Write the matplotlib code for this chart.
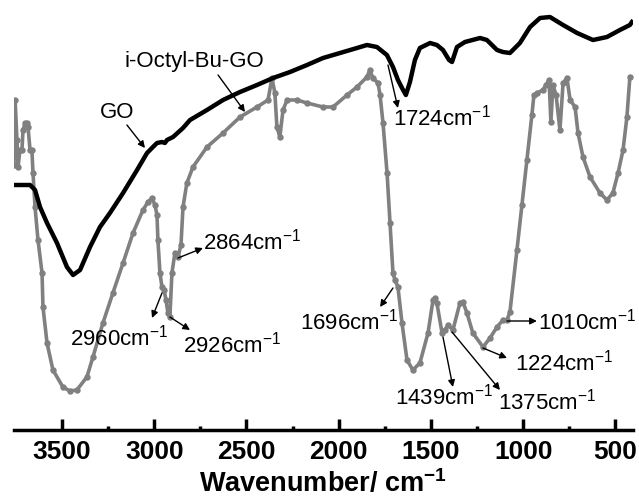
import numpy as np
import matplotlib
matplotlib.use("Agg")
import matplotlib.pyplot as plt

plt.rcParams['font.family'] = ['Liberation Sans', 'DejaVu Sans']
plt.rcParams['mathtext.fontset'] = 'custom'
plt.rcParams['mathtext.rm'] = 'Liberation Sans'
plt.rcParams['mathtext.it'] = 'Liberation Sans:italic'
plt.rcParams['mathtext.bf'] = 'Liberation Sans:bold'

# GO spectrum (wavenumber, transmittance in arbitrary units)
go_wn = [3760, 3673, 3646, 3619, 3581, 3527, 3473, 3440, 3402, 3348, 3294, 3240,
         3169, 3093, 3039, 3007, 2985, 2958, 2942, 2931, 2898, 2844, 2806, 2714,
         2627, 2535, 2443, 2356, 2264, 2172, 2085, 1993, 1901, 1847, 1793, 1739,
         1706, 1679, 1657, 1636, 1614, 1587, 1560, 1505, 1468, 1435, 1402, 1386,
         1359, 1316, 1234, 1197, 1142, 1110, 1072, 1018, 963, 909, 855, 784,
         708, 622, 546, 476, 422, 411]
go_t = [245, 245, 240, 223, 207, 187, 163, 155, 160, 183, 203, 217,
        237, 260, 277, 283, 287, 288, 287, 290, 293, 302, 310, 320,
        330, 338, 345, 352, 358, 365, 372, 377, 382, 385, 383, 375,
        363, 350, 342, 335, 348, 370, 382, 387, 385, 380, 370, 368,
        383, 388, 392, 390, 380, 378, 377, 387, 403, 412, 413, 405,
        397, 390, 393, 400, 405, 408]

# i-Octyl-Bu-GO spectrum
oct_wn = [3760, 3754, 3744, 3738, 3728, 3717, 3711, 3700, 3690, 3684, 3673, 3663,
          3657, 3646, 3630, 3608, 3603, 3581, 3549, 3495, 3457, 3419, 3365, 3332,
          3278, 3224, 3169, 3115, 3061, 3034, 3012, 2996, 2985, 2980, 2969, 2958,
          2947, 2936, 2926, 2915, 2904, 2888, 2871, 2855, 2844, 2823, 2790, 2714,
          2627, 2535, 2443, 2383, 2362, 2346, 2335, 2319, 2302, 2280, 2226, 2172,
          2085, 2031, 1955, 1901, 1847, 1831, 1815, 1787, 1776, 1760, 1738, 1722,
          1706, 1695, 1679, 1657, 1630, 1598, 1560, 1516, 1489, 1478, 1468, 1440,
          1424, 1408, 1381, 1343, 1327, 1305, 1273, 1218, 1180, 1142, 1110, 1088,
          1072, 1034, 1007, 980, 953, 942, 925, 893, 877, 860, 850, 839,
          822, 801, 784, 763, 746, 719, 703, 676, 638, 584, 546, 514,
          486, 459, 438, 422]
oct_t = [265, 330, 290, 263, 280, 280, 300, 307, 307, 303, 280, 280,
         257, 223, 190, 157, 123, 87, 60, 43, 39, 40, 53, 73,
         107, 137, 167, 197, 220, 228, 232, 225, 215, 190, 157, 143,
         140, 130, 117, 113, 157, 177, 173, 185, 223, 247, 263, 283,
         297, 313, 323, 330, 352, 337, 303, 293, 320, 330, 330, 327,
         323, 323, 335, 343, 353, 360, 352, 347, 335, 307, 257, 207,
         157, 150, 143, 107, 70, 60, 67, 97, 130, 132, 127, 97,
         100, 105, 100, 127, 128, 117, 97, 83, 92, 103, 110, 110,
         118, 180, 225, 270, 315, 335, 337, 340, 345, 350, 308, 345,
         335, 300, 347, 352, 330, 323, 297, 273, 253, 237, 230, 237,
         257, 280, 313, 353]

# peak labels: (text, text x, text y, arrow tail x, tail y, head x, head y)
peak_labels = [
    ("1724", 1706, 312, 1733, 365, 1679, 322),
    ("2864", 2736, 188, 2871, 172, 2736, 182),
    ("2960", 3457, 92, 2958, 137, 3012, 112),
    ("2926", 2844, 85, 2915, 113, 2806, 100),
    ("1696", 2210, 108, 1706, 142, 1776, 123),
    ("1439", 1695, 33, 1435, 93, 1381, 43),
    ("1375", 1137, 28, 1386, 98, 1126, 40),
    ("1224", 1045, 67, 1218, 82, 1088, 72),
    ("1010", 920, 108, 1088, 109, 926, 109),
]

fig = plt.figure(figsize=(6.39, 4.97), dpi=100)
ax = fig.add_axes([14/639, 67/497, 619/639, 430/497])

ax.plot(oct_wn, oct_t, color='#808080', lw=2.6, marker='o', ms=3.6,
        mec='#808080', mfc='#808080', solid_joinstyle='round', zorder=2)
ax.plot(go_wn, go_t, color='black', lw=3.2, solid_joinstyle='round', zorder=3)

ax.set_xlim(3760, 405)
ax.set_ylim(0, 430)

for s in ['top', 'left', 'right']:
    ax.spines[s].set_visible(False)
ax.spines['bottom'].set_linewidth(2.5)
ax.set_yticks([])
ax.set_xticks([3500, 3000, 2500, 2000, 1500, 1000, 500])
ax.set_xticks([3250, 2750, 2250, 1750, 1250, 750], minor=True)
ax.tick_params(axis='x', which='major', direction='in', length=8, width=2.5,
               pad=7, labelsize=19)
ax.tick_params(axis='x', which='minor', direction='in', length=3, width=2.5)
for lb in ax.get_xticklabels():
    lb.set_fontweight('bold')
ax.set_xlabel(r'Wavenumber/ cm$^{\mathbf{-1}}$', fontsize=19.5,
              fontweight='bold', labelpad=4)

arrow = dict(arrowstyle='-|>', color='black', lw=1, mutation_scale=10,
             shrinkA=0, shrinkB=0)

# curve names
ax.text(3202, 317, 'GO', fontsize=16, ha='center', va='center')
ax.annotate('', xy=(3050, 282), xytext=(3148, 305), arrowprops=arrow)
ax.text(2785, 368, 'i-Octyl-Bu-GO', fontsize=16, ha='center', va='center')
ax.annotate('', xy=(2508, 318), xytext=(2654, 355), arrowprops=arrow)

for txt, tx, ty, ax0, ay0, ax1, ay1 in peak_labels:
    ax.text(tx, ty, txt + r'cm$^{-1}$', fontsize=16, ha='left', va='center')
    ax.annotate('', xy=(ax1, ay1), xytext=(ax0, ay0), arrowprops=arrow)

fig.savefig('out.png', dpi=100)
